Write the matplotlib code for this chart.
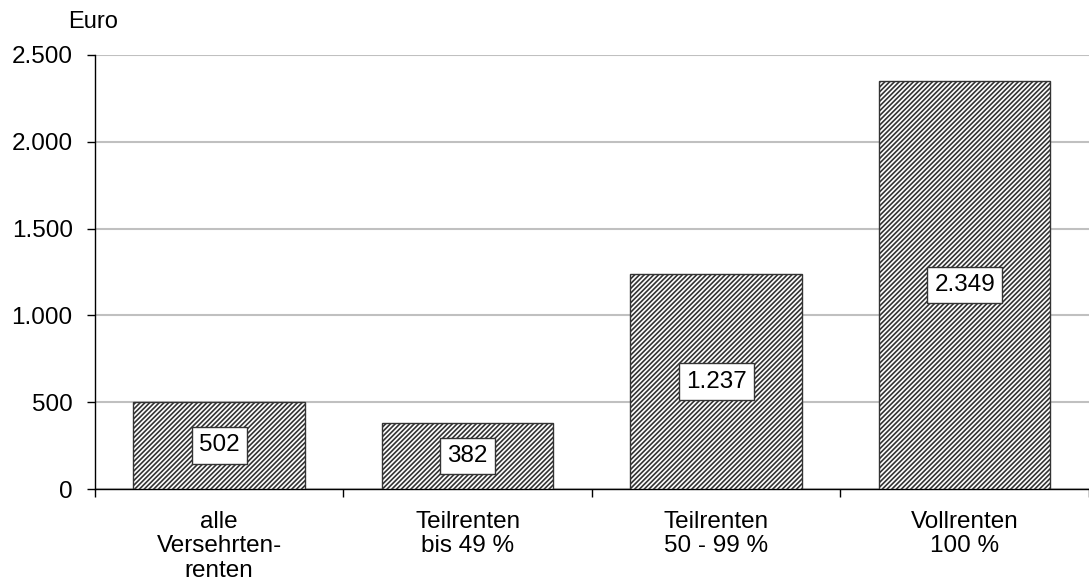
import numpy as np
import matplotlib.pyplot as plt

plt.rcParams['font.family'] = ['Liberation Sans', 'DejaVu Sans']
plt.rcParams['hatch.linewidth'] = 1.2
plt.rcParams['hatch.color'] = 'black'

kategorien = ['alle\nVersehrten-\nrenten', 'Teilrenten\nbis 49 %', 'Teilrenten\n50 - 99 %', 'Vollrenten\n100 %']
werte = [502, 382, 1237, 2349]
werte_text = ['502', '382', '1.237', '2.349']
y_ticks = [0, 500, 1000, 1500, 2000, 2500]
y_labels = ['0', '500', '1.000', '1.500', '2.000', '2.500']

fig = plt.figure(figsize=(10.89, 5.85), dpi=100)
ax = fig.add_axes([0.0872, 0.164, 0.9128, 0.742])

x = np.arange(len(werte))
ax.bar(x, werte, width=0.69, color='white', edgecolor='#333333',
       linewidth=1.0, hatch='///////', zorder=3)

# Werte in der Mitte der Balken
for xi, w, t in zip(x, werte, werte_text):
    ax.text(xi, w / 2, t, ha='center', va='center', fontsize=17.5, zorder=4,
            bbox=dict(boxstyle='square,pad=0.3', fc='white', ec='#333333', lw=1.0))

ax.set_xlim(-0.5, 3.5)
ax.set_ylim(0, 2500)
ax.set_yticks(y_ticks)
ax.set_yticklabels(y_labels, fontsize=17.5)
ax.yaxis.grid(True, color='#c0c0c0', linewidth=1.5, zorder=0)

# Kategorien unter den Balken, Ticks zwischen den Kategorien
ax.set_xticks(np.arange(-0.5, 4, 1.0))
ax.set_xticklabels([])
ax.tick_params(axis='x', direction='out', length=6, width=1)
ax.tick_params(axis='y', direction='out', length=6, width=1, pad=10)
for xi, k in zip(x, kategorien):
    ax.text(xi, -0.05, k, transform=ax.get_xaxis_transform(), ha='center', va='top',
            fontsize=17.5, linespacing=1.15)

for s in ['top', 'right']:
    ax.spines[s].set_visible(False)
ax.spines['left'].set_linewidth(1)
ax.spines['bottom'].set_linewidth(1)

fig.text(93 / 1089, 1 - 22 / 585, 'Euro', ha='center', va='center', fontsize=17)

fig.savefig('out.png', dpi=100)
